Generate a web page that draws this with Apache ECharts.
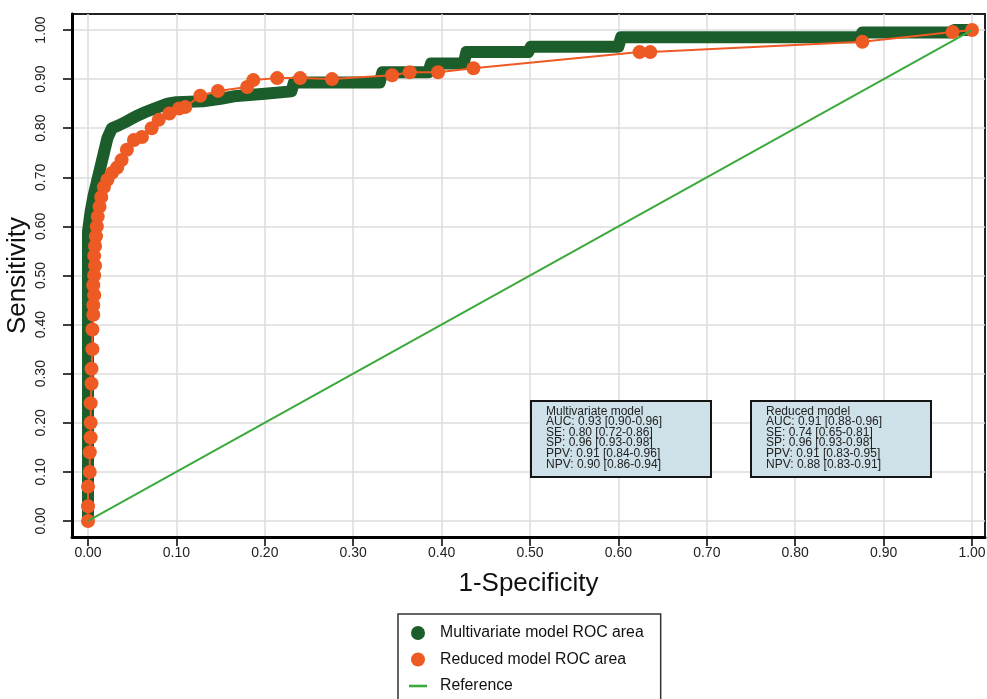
<!DOCTYPE html>
<html>
<head>
<meta charset="utf-8">
<script src="https://cdn.jsdelivr.net/npm/echarts@6/dist/echarts.min.js"></script>
<style>
html,body{margin:0;padding:0;background:#fff;}
#chart{width:987px;height:699px;}
</style>
</head>
<body>
<div id="chart"></div>
<script>
// ---- data ----
const tickValues = [0, 0.1, 0.2, 0.3, 0.4, 0.5, 0.6, 0.7, 0.8, 0.9, 1.0];

const multiX = [0, 0, 0.003, 0.006, 0.010, 0.014, 0.018, 0.022, 0.027, 0.035, 0.045, 0.055, 0.065, 0.075, 0.090, 0.100, 0.130, 0.150, 0.165, 0.200, 0.230, 0.233, 0.330, 0.333, 0.385, 0.388, 0.425, 0.428, 0.498, 0.501, 0.600, 0.603, 0.873, 0.876, 0.975, 0.980, 1.0];
const multiY = [0, 0.59, 0.63, 0.66, 0.69, 0.72, 0.75, 0.78, 0.80, 0.806, 0.815, 0.825, 0.833, 0.840, 0.850, 0.853, 0.855, 0.860, 0.865, 0.870, 0.875, 0.893, 0.893, 0.914, 0.914, 0.932, 0.932, 0.955, 0.955, 0.966, 0.966, 0.985, 0.985, 0.995, 0.995, 1.0, 1.0];

const reducedX = [0, 0, 0, 0.002, 0.002, 0.003, 0.003, 0.003, 0.004, 0.004, 0.005, 0.005, 0.006, 0.006, 0.007, 0.006, 0.007, 0.008, 0.007, 0.008, 0.009, 0.010, 0.011, 0.013, 0.015, 0.018, 0.022, 0.027, 0.033, 0.038, 0.044, 0.052, 0.061, 0.072, 0.080, 0.092, 0.103, 0.110, 0.127, 0.147, 0.180, 0.187, 0.214, 0.240, 0.276, 0.344, 0.364, 0.396, 0.436, 0.624, 0.636, 0.876, 0.978, 1.0];
const reducedY = [0, 0.03, 0.07, 0.10, 0.14, 0.17, 0.20, 0.24, 0.28, 0.31, 0.35, 0.39, 0.42, 0.44, 0.46, 0.48, 0.50, 0.52, 0.54, 0.56, 0.58, 0.60, 0.62, 0.64, 0.66, 0.68, 0.695, 0.709, 0.72, 0.735, 0.756, 0.776, 0.782, 0.80, 0.817, 0.83, 0.84, 0.843, 0.866, 0.876, 0.884, 0.898, 0.902, 0.902, 0.90, 0.908, 0.914, 0.914, 0.922, 0.955, 0.955, 0.976, 0.996, 1.0];

const refX = [0, 1];
const refY = [0, 1];

const seriesNames = ['Multivariate model ROC area', 'Reduced model ROC area', 'Reference'];

const multiBoxLines = ['Multivariate model', 'AUC: 0.93 [0.90-0.96]', 'SE: 0.80 [0.72-0.86]', 'SP: 0.96 [0.93-0.98]', 'PPV: 0.91 [0.84-0.96]', 'NPV: 0.90 [0.86-0.94]'];
const reducedBoxLines = ['Reduced model', 'AUC: 0.91 [0.88-0.96]', 'SE: 0.74 [0.65-0.81]', 'SP: 0.96 [0.93-0.98]', 'PPV: 0.91 [0.83-0.95]', 'NPV: 0.88 [0.83-0.91]'];

// ---- chart ----
const zip = (xs, ys) => xs.map((x, i) => [x, ys[i]]);
const GREEN = '#1b5e2b', ORANGE = '#ee5a24', REF = '#3aaa3c';
const sans = '"Liberation Sans", Arial, Helvetica, sans-serif';

function infoBox(left, top, lines) {
  return {
    type: 'group', left: left, top: top, z: 100,
    children: [
      { type: 'rect', z: 100, shape: { x: 0, y: 0, width: 180, height: 76 },
        style: { fill: '#cfe1e8', stroke: '#151515', lineWidth: 2 } },
      { type: 'text', z: 101, x: 15, y: 5,
        style: { text: lines.join('\n'), fontFamily: sans, fontSize: 12, lineHeight: 10.6, fill: '#222', verticalAlign: 'top' } }
    ]
  };
}

const chart = echarts.init(document.getElementById('chart'));
chart.setOption({
  backgroundColor: '#fff',
  animation: false,
  grid: { left: 72, right: 2, top: 14, bottom: 162, outerBoundsMode: 'none', containLabel: false,
          show: true, borderColor: '#222', borderWidth: 2, backgroundColor: '#fff' },
  xAxis: {
    type: 'value', min: -0.0181, max: 1.0147,
    name: '1-Specificity', nameLocation: 'middle', nameGap: 34, nameMoveOverlap: false,
    nameTextStyle: { fontFamily: sans, fontSize: 26, color: '#111' },
    axisLine: { show: true, onZero: false, lineStyle: { color: '#000', width: 3 } },
    axisTick: { show: true, length: 9, customValues: tickValues, lineStyle: { color: '#000', width: 1.5 } },
    axisLabel: { customValues: tickValues, formatter: v => v.toFixed(2), fontFamily: sans, fontSize: 14, color: '#222', margin: 9 },
    splitLine: { show: true, lineStyle: { color: '#dcdcdc', width: 1.5 } }
  },
  yAxis: {
    type: 'value', min: -0.0326, max: 1.0326,
    name: 'Sensitivity', nameLocation: 'middle', nameGap: 41, nameMoveOverlap: false,
    nameTextStyle: { fontFamily: sans, fontSize: 26, color: '#111' },
    axisLine: { show: true, onZero: false, lineStyle: { color: '#000', width: 3 } },
    axisTick: { show: true, length: 9, customValues: tickValues, lineStyle: { color: '#000', width: 1.5 } },
    axisLabel: { customValues: tickValues, formatter: v => v.toFixed(2), rotate: 90, fontFamily: sans, fontSize: 14, color: '#222', margin: 24 },
    splitLine: { show: true, lineStyle: { color: '#dcdcdc', width: 1.5 } }
  },
  legend: {
    orient: 'vertical', left: 398, top: 614, height: 90,
    padding: [10, 17, 10, 11],
    itemWidth: 18, itemHeight: 14, itemGap: 8.5,
    borderColor: '#333', borderWidth: 1.5, backgroundColor: '#fff',
    textStyle: { fontFamily: sans, fontSize: 15.8, lineHeight: 18, color: '#111', padding: [0, 0, 0, 8] },
    data: [
      { name: seriesNames[0], icon: 'circle', itemStyle: { color: GREEN } },
      { name: seriesNames[1], icon: 'circle', itemStyle: { color: ORANGE } },
      { name: seriesNames[2], icon: 'path://M0,0L18,0L18,2.6L0,2.6Z', itemStyle: { color: REF } }
    ]
  },
  graphic: [
    infoBox(530, 400, multiBoxLines),
    infoBox(750, 400, reducedBoxLines)
  ],
  series: [
    { name: seriesNames[0], type: 'line', data: zip(multiX, multiY), showSymbol: false, symbol: 'circle',
      itemStyle: { color: GREEN },
      lineStyle: { color: GREEN, width: 12, join: 'round', cap: 'round' }, z: 2 },
    { name: seriesNames[1], type: 'line', data: zip(reducedX, reducedY), symbol: 'circle', symbolSize: 14,
      itemStyle: { color: ORANGE }, lineStyle: { color: ORANGE, width: 2 }, z: 3 },
    { name: seriesNames[2], type: 'line', data: zip(refX, refY), symbol: 'none',
      itemStyle: { color: REF }, lineStyle: { color: REF, width: 2 }, z: 4 }
  ]
});
</script>
</body>
</html>
